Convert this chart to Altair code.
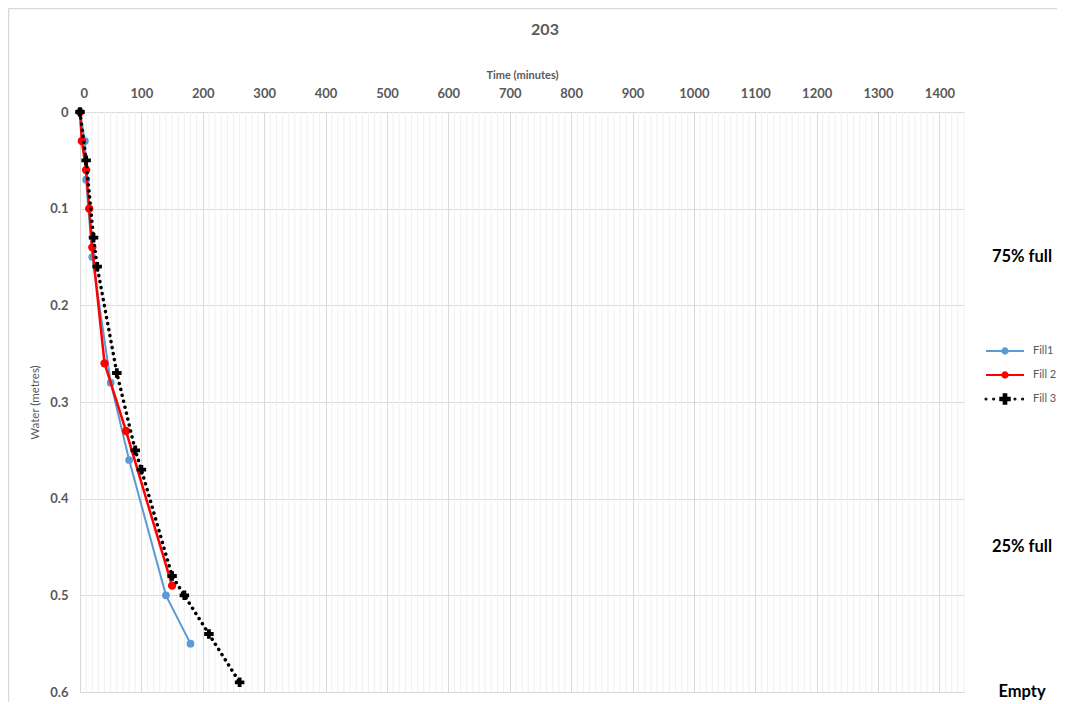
import altair as alt
import pandas as pd

# ---- data ----
series = ["Fill1", "Fill 2", "Fill 3"]
colors = ["#5b9bd5", "#ff0000", "#000000"]

fill1_time = [0, 8, 10, 20, 50, 80, 140, 180]
fill1_depth = [0, 0.03, 0.07, 0.15, 0.28, 0.36, 0.50, 0.55]

fill2_time = [0, 3, 10, 15, 20, 40, 75, 150]
fill2_depth = [0, 0.03, 0.06, 0.10, 0.14, 0.26, 0.33, 0.49]

fill3_time = [0, 10, 22, 28, 60, 90, 100, 150, 170, 210, 260]
fill3_depth = [0, 0.05, 0.13, 0.16, 0.27, 0.35, 0.37, 0.48, 0.50, 0.54, 0.59]

x_ticks = list(range(0, 1401, 100))
minor_ticks = [v for v in range(10, 1441, 10) if v % 100]
y_ticks = [0, 0.1, 0.2, 0.3, 0.4, 0.5, 0.6]

notes = ["75% full", "25% full", "Empty"]
note_depth = [0.15, 0.45, 0.6]

# ---- build table ----
rows = []
for name, ts, ds in zip(series, [fill1_time, fill2_time, fill3_time],
                        [fill1_depth, fill2_depth, fill3_depth]):
    for i, (t, d) in enumerate(zip(ts, ds)):
        rows.append({"series": name, "t": t, "d": d, "i": i})
df = pd.DataFrame(rows)

FONT = "Lato"
GREY = "#595959"
GRID = "#d9d9d9"

x_enc = alt.X(
    "t:Q",
    scale=alt.Scale(domain=[0, 1440], nice=False, zero=False),
    axis=alt.Axis(orient="top", values=x_ticks, format="d", title="Time (minutes)", grid=True,
                  gridColor=GRID, domain=False, ticks=False, labelPadding=12,
                  labelFontWeight="bold", labelFontSize=13, labelColor=GREY, labelFont=FONT,
                  titleFontSize=11, titleFontWeight="bold", titleColor=GREY, titleFont=FONT,
                  titlePadding=7),
)
y_enc = alt.Y(
    "d:Q",
    scale=alt.Scale(domain=[0, 0.6], reverse=True, nice=False, zero=False),
    axis=alt.Axis(values=y_ticks, format="~g", title="Water (metres)", grid=True,
                  gridColor=GRID, domain=True, domainColor=GRID, ticks=False,
                  labelPadding=12, labelFontWeight="bold", labelFontSize=13,
                  labelColor=GREY, labelFont=FONT, titleFontSize=11.5,
                  titleFontWeight="normal", titleColor=GREY, titleFont=FONT,
                  titlePadding=9),
)


# ---- legend symbol shapes (unit coords; 1 unit = 9.5 px at symbolSize 361) ----
def circ(cx, r):
    return f"M{cx - r},0A{r},{r} 0 1,1 {cx + r},0A{r},{r} 0 1,1 {cx - r},0Z"


line_marker = "M-2,0L2,0" + circ(0, 0.28)
cross_marker = "M-0.5,-0.14H-0.14V-0.5H0.14V-0.14H0.5V0.14H0.14V0.5H-0.14V0.14H-0.5Z"
dotted_marker = "".join(circ(c, 0.06) for c in (-2, -1.2, 1.05, 1.85)) + cross_marker

legend = alt.Legend(
    title=None, orient="none", legendX=914.5, legendY=228.5,
    symbolSize=361, symbolStrokeWidth=2, symbolOpacity=1,
    labelOffset=17.5, rowPadding=6, padding=0,
    labelFont=FONT, labelFontSize=11, labelColor=GREY,
)
series_scale = alt.Scale(domain=series, range=colors)

base = alt.Chart(df)

border_top = alt.Chart(pd.DataFrame({"k": [0]})).mark_rule(color=GRID, strokeWidth=1.5).encode(
    x=alt.value(-71.5), x2=alt.value(1000), y=alt.value(-103.5))
border_left = alt.Chart(pd.DataFrame({"k": [0]})).mark_rule(color=GRID, strokeWidth=1.5).encode(
    x=alt.value(-71.5), y=alt.value(-103.5), y2=alt.value(700))

minor = alt.Chart(pd.DataFrame({"t": minor_ticks})).mark_rule(
    color="#f0f0f0", strokeWidth=1).encode(x=x_enc)

layers = [border_top, border_left, minor]

styles = {
    "Fill1": dict(line=dict(strokeWidth=2), pt=dict(shape="circle", size=60)),
    "Fill 2": dict(line=dict(strokeWidth=2.5), pt=dict(shape="circle", size=70)),
    "Fill 3": dict(line=dict(strokeWidth=3.5, strokeDash=[0.1, 6], strokeCap="round"),
                   pt=dict(shape="cross", size=90)),
}
for name, col in zip(series, colors):
    st = styles[name]
    sub = base.transform_filter(alt.datum.series == name)
    layers.append(sub.mark_line(color=col, **st["line"]).encode(x=x_enc, y=y_enc, order="i:Q"))
    layers.append(sub.mark_point(filled=True, opacity=1, color=col, **st["pt"]).encode(x=x_enc, y=y_enc))

# legend-only layer (draws no marks: filtered empty); carries the series legend
legend_layer = base.transform_filter("false").mark_point(filled=True).encode(
    x=x_enc, y=y_enc,
    fill=alt.Fill("series:N", scale=series_scale, legend=legend),
    stroke=alt.Stroke("series:N", scale=series_scale, legend=legend),
    shape=alt.Shape("series:N", scale=alt.Scale(domain=series,
                                                range=[line_marker, line_marker, dotted_marker]),
                    legend=legend),
)
layers.append(legend_layer)

text = alt.Chart(pd.DataFrame({"note": notes, "d": note_depth})).mark_text(
    fontSize=16.5, fontWeight="bold", font=FONT, color="black", align="center", baseline="middle"
).encode(x=alt.value(942), y=y_enc, text="note:N")
layers.append(text)

chart = alt.layer(*layers).properties(
    width=884, height=580,
    autosize=alt.AutoSizeParams(type="none"),
    padding={"left": 72, "top": 104, "right": 93, "bottom": 10},
    title=alt.Title("203", fontSize=16, fontWeight="bold", color=GREY, font=FONT,
                    anchor="middle", frame="group", dx=23, offset=-30),
).configure_view(stroke=None)

chart.save("out.html", embed_options={"renderer": "svg", "actions": False})
